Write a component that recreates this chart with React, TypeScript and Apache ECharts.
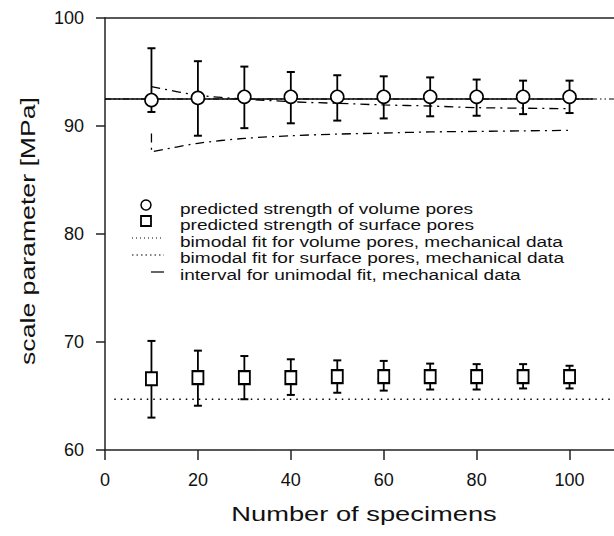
import React, { useEffect, useRef } from "react";
import * as echarts from "echarts";

// ---- data ----
const specimens = [10, 20, 30, 40, 50, 60, 70, 80, 90, 100];

const volumeMean = [92.4, 92.6, 92.7, 92.7, 92.7, 92.7, 92.7, 92.7, 92.7, 92.7];
const volumeUpper = [97.2, 96.0, 95.5, 95.0, 94.7, 94.6, 94.5, 94.3, 94.2, 94.2];
const volumeLower = [91.3, 89.1, 89.8, 90.25, 90.5, 90.7, 90.9, 90.95, 91.1, 91.2];

const surfaceMean = [66.6, 66.7, 66.7, 66.7, 66.8, 66.8, 66.8, 66.8, 66.8, 66.8];
const surfaceUpper = [70.1, 69.2, 68.7, 68.4, 68.3, 68.25, 68.0, 67.95, 67.95, 67.8];
const surfaceLower = [63.0, 64.1, 64.7, 65.1, 65.3, 65.5, 65.6, 65.6, 65.7, 65.7];

const unimodalFit = [[0, 92.5], [105, 92.5]];
const bimodalVolumeFit = [[0, 92.5], [110, 92.5]];
const bimodalSurfaceFit = [[2, 64.7], [110, 64.7]];
const intervalUpper = [
  [10, 93.65], [20, 92.85], [30, 92.5], [40, 92.25], [50, 92.1],
  [60, 91.95], [70, 91.85], [80, 91.7], [90, 91.65], [100, 91.6],
];
const intervalLower = [
  [10, 89.3], [10, 87.6], [20, 88.4], [30, 88.85], [40, 89.1], [50, 89.25],
  [60, 89.35], [70, 89.45], [80, 89.5], [90, 89.55], [100, 89.6],
];

const xTicks = [0, 20, 40, 60, 80, 100];
const yTicks = [60, 70, 80, 90, 100];

const xTitle = "Number of specimens";
const yTitle = "scale parameter [MPa]";
const legendLabels = [
  "predicted strength of volume pores",
  "predicted strength of surface pores",
  "bimodal fit for volume pores, mechanical data",
  "bimodal fit for surface pores, mechanical data",
  "interval for unimodal fit, mechanical data",
];

const FONT = "'Liberation Sans', Arial, Helvetica, sans-serif";

function errorBarSeries(lower: number[], upper: number[]) {
  return {
    type: "custom",
    data: specimens.map((s, i) => [s, lower[i], upper[i]]),
    encode: { x: 0, y: [1, 2] },
    z: 3,
    renderItem: (_params: any, api: any) => {
      const x = api.value(0);
      const lo = api.coord([x, api.value(1)]);
      const hi = api.coord([x, api.value(2)]);
      const w = 4;
      const st = { stroke: "#000", lineWidth: 1.8 };
      return {
        type: "group",
        children: [
          { type: "line", shape: { x1: hi[0], y1: hi[1], x2: lo[0], y2: lo[1] }, style: st },
          { type: "line", shape: { x1: hi[0] - w, y1: hi[1], x2: hi[0] + w, y2: hi[1] }, style: { ...st, lineWidth: 2 } },
          { type: "line", shape: { x1: lo[0] - w, y1: lo[1], x2: lo[0] + w, y2: lo[1] }, style: { ...st, lineWidth: 2 } },
        ],
      };
    },
  };
}

export default function App() {
  const ref = useRef<HTMLDivElement>(null);
  useEffect(() => {
    if (!ref.current) return;
    const chart = echarts.init(ref.current, undefined, { renderer: "svg" });
    const legY = [209, 225, 242, 258, 275];
    const graphics: any[] = [
      { type: "circle", shape: { cx: 146, cy: legY[0] - 4, r: 5 }, style: { fill: "#fff", stroke: "#000", lineWidth: 1.5 } },
      { type: "rect", shape: { x: 141, y: legY[1] - 9, width: 10, height: 10 }, style: { fill: "#fff", stroke: "#000", lineWidth: 1.8 } },
      { type: "line", shape: { x1: 132, y1: legY[2] - 4, x2: 164, y2: legY[2] - 4 }, style: { stroke: "#000", lineWidth: 1, lineDash: [1, 3] } },
      { type: "line", shape: { x1: 132, y1: legY[3] - 3, x2: 164, y2: legY[3] - 3 }, style: { stroke: "#000", lineWidth: 1, lineDash: [1.5, 3] } },
      { type: "line", shape: { x1: 151, y1: legY[4] - 3, x2: 164, y2: legY[4] - 3 }, style: { stroke: "#000", lineWidth: 1.2 } },
      ...legendLabels.map((t, i) => ({
        type: "text",
        x: 180,
        y: legY[i],
        scaleX: 1.36,
        style: { text: t, font: `14px ${FONT}`, fill: "#111", verticalAlign: "middle", align: "left" },
      })),
      {
        type: "text",
        x: 364,
        y: 514,
        scaleX: 1.3,
        style: { text: xTitle, font: `21px ${FONT}`, fill: "#111", verticalAlign: "middle", align: "center" },
      },
      {
        type: "text",
        x: 28,
        y: 231,
        rotation: Math.PI / 2,
        scaleX: 1.3,
        style: { text: yTitle, font: `20.5px ${FONT}`, fill: "#111", verticalAlign: "middle", align: "center" },
      },
    ];
    chart.setOption({
      animation: false,
      backgroundColor: "#fff",
      grid: { left: 105, top: 18, right: -2, bottom: 86, outerBoundsMode: "none" },
      xAxis: [
        {
          type: "value",
          min: 0,
          max: 110,
          interval: 20,
          axisLine: { show: true, onZero: false, lineStyle: { color: "#222", width: 1.5 } },
          axisTick: { show: true, inside: false, length: 10, lineStyle: { color: "#222", width: 1.5 } },
          axisLabel: {
            margin: 21,
            fontFamily: FONT,
            fontSize: 18,
            color: "#111",
            formatter: (v: number) => (xTicks.includes(v) ? String(v) : ""),
          },
          splitLine: { show: false },
        },
        {
          type: "value",
          position: "top",
          min: 0,
          max: 110,
          interval: 20,
          axisLine: { show: true, onZero: false, lineStyle: { color: "#222", width: 1.5 } },
          axisTick: { show: false },
          axisLabel: { show: false },
          splitLine: { show: false },
        },
      ],
      yAxis: {
        type: "value",
        min: 60,
        max: 100,
        interval: 10,
        axisLine: { show: true, onZero: false, lineStyle: { color: "#222", width: 1.5 } },
        axisTick: { show: true, inside: false, length: 9, lineStyle: { color: "#222", width: 1.5 } },
        axisLabel: {
          margin: 21,
          fontFamily: FONT,
          fontSize: 18,
          color: "#111",
          formatter: (v: number) => (yTicks.includes(v) ? String(v) : ""),
        },
        splitLine: { show: false },
      },
      series: [
        {
          name: "bimodal fit for volume pores, mechanical data",
          type: "line",
          data: bimodalVolumeFit,
          symbol: "none",
          z: 1,
          lineStyle: { color: "#000", width: 1.2, type: [6, 3, 1.5, 3, 1.5, 3] },
        },
        {
          name: "unimodal fit",
          type: "line",
          data: unimodalFit,
          symbol: "none",
          z: 2,
          lineStyle: { color: "#000", width: 1.3, type: "solid" },
        },
        {
          name: "interval upper",
          type: "line",
          data: intervalUpper,
          symbol: "none",
          smooth: 0.3,
          z: 2,
          lineStyle: { color: "#000", width: 1.3, type: [9, 5, 2, 5] },
        },
        {
          name: "interval for unimodal fit, mechanical data",
          type: "line",
          data: intervalLower,
          symbol: "none",
          smooth: 0.3,
          z: 2,
          lineStyle: { color: "#000", width: 1.3, type: [9, 5, 2, 5] },
        },
        {
          name: "bimodal fit for surface pores, mechanical data",
          type: "line",
          data: bimodalSurfaceFit,
          symbol: "none",
          z: 2,
          lineStyle: { color: "#000", width: 1.4, type: [1.5, 5] },
        },
        errorBarSeries(volumeLower, volumeUpper),
        errorBarSeries(surfaceLower, surfaceUpper),
        {
          name: "predicted strength of volume pores",
          type: "scatter",
          data: specimens.map((s, i) => [s, volumeMean[i]]),
          symbol: "circle",
          symbolSize: 13,
          z: 5,
          itemStyle: { color: "#fff", opacity: 1, borderColor: "#000", borderWidth: 1.6 },
        },
        {
          name: "predicted strength of surface pores",
          type: "scatter",
          data: specimens.map((s, i) => [s, surfaceMean[i]]),
          symbol: "rect",
          symbolSize: [11, 13],
          z: 5,
          itemStyle: { color: "#fff", opacity: 1, borderColor: "#000", borderWidth: 2 },
        },
      ],
      graphic: graphics,
    });
    return () => chart.dispose();
  }, []);
  return (
    <div
      ref={ref}
      style={{ position: "fixed", left: 0, top: 0, width: 614, height: 536, background: "#fff" }}
    />
  );
}
